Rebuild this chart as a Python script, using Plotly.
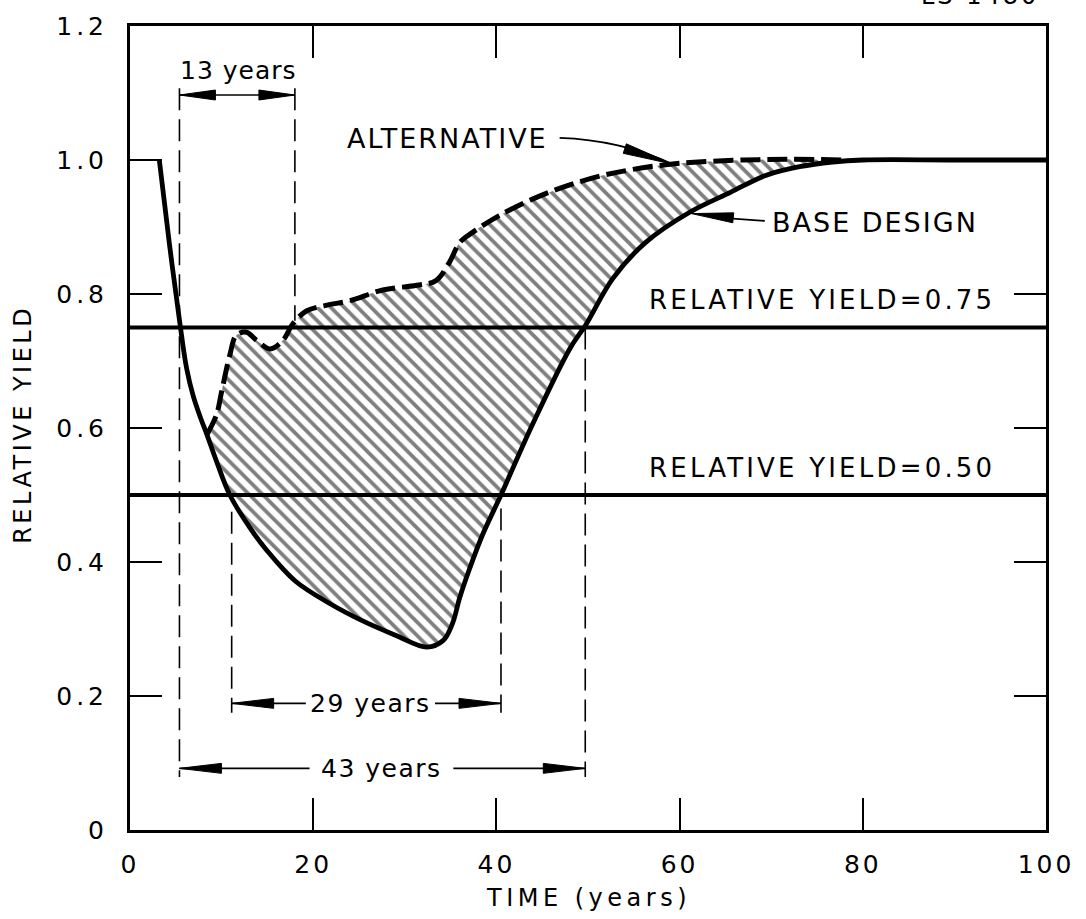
import plotly.graph_objects as go

# ---- data -------------------------------------------------------------
# base design: relative yield versus time (years)
base_t = [3.2, 4.3, 5.45, 6.18, 6.9, 7.63, 8.4, 9.45, 10.9, 13.1, 14.9, 18.0,
          21.8, 25.4, 29.1, 32.4, 34.2, 35.2, 36.0, 37.1, 38.5, 40.5, 44.0,
          48.0, 49.8, 52.7, 56.3, 61.1, 65.6, 69.4, 73.1, 76.7, 80.0, 90.0, 100.0]
base_y = [1.0, 0.875, 0.756, 0.689, 0.648, 0.618, 0.59, 0.55, 0.5, 0.451, 0.418, 0.372,
          0.338, 0.312, 0.29, 0.273, 0.283, 0.308, 0.347, 0.391, 0.441, 0.5, 0.607,
          0.718, 0.755, 0.823, 0.877, 0.922, 0.952, 0.977, 0.99, 0.997, 1.0, 1.0, 1.0]

# alternative design
alt_t = [8.4, 9.45, 10.0, 10.9, 11.6, 12.7, 13.8, 15.3, 16.7, 17.8, 19.3, 21.4,
         24.0, 27.6, 31.3, 33.4, 34.9, 36.0, 37.4, 40.3, 44.0, 47.6, 51.3, 54.9,
         58.5, 62.0, 67.0, 72.0, 78.0]
alt_y = [0.59, 0.62, 0.654, 0.709, 0.738, 0.743, 0.731, 0.718, 0.731, 0.756, 0.775, 0.783,
         0.79, 0.806, 0.813, 0.82, 0.848, 0.877, 0.892, 0.917, 0.942, 0.961, 0.976, 0.986,
         0.993, 0.997, 1.0, 1.001, 1.0]

yield_levels = [0.75, 0.50]
level_labels = ["RELATIVE YIELD=0.75", "RELATIVE YIELD=0.50"]

# time spans: label, start, end, height of the dimension line
span_labels = ["13 years", "29 years", "43 years"]
span_start = [5.4, 11.1, 5.4]
span_end = [18.0, 40.5, 49.7]
span_y = [1.097, 0.189, 0.092]

x_ticks = [0, 20, 40, 60, 80, 100]
x_ticktext = ["0", "20", "40", "60", "80", "100"]
y_ticks = [0, 0.2, 0.4, 0.6, 0.8, 1.0, 1.2]
y_ticktext = ["0", "0.2", "0.4", "0.6", "0.8", "1.0", "1.2"]

# ---- layout geometry --------------------------------------------------
W, H = 1086, 919
ML, MR, MT, MB = 130, 39, 23, 89
X_RANGE = (0, 100)
Y_RANGE = (0, 1.2)
PX_X = (W - ML - MR) / (X_RANGE[1] - X_RANGE[0])   # pixels per year
PX_Y = (H - MT - MB) / (Y_RANGE[1] - Y_RANGE[0])   # pixels per unit yield

FONT = "DejaVu Sans"
INK = "black"


def spaced(text, px):
    """Wide lettering, as in hand-stencilled drawings."""
    return f'<span style="letter-spacing:{px}px">{text}</span>'


def head(tip, tail, length=40, half=5):
    """Filled, slender arrowhead (data coords) pointing from tail to tip."""
    tx, ty = tip[0] * PX_X, -tip[1] * PX_Y
    sx, sy = tail[0] * PX_X, -tail[1] * PX_Y
    dx, dy = tx - sx, ty - sy
    n = (dx * dx + dy * dy) ** 0.5
    ux, uy = dx / n, dy / n
    bx, by = tx - ux * length, ty - uy * length
    px, py = -uy * half, ux * half
    pts = [(tx, ty), (bx + px, by + py), (bx - px, by - py)]
    d = "M " + " L ".join(f"{x / PX_X:.4f},{-y / PX_Y:.5f}" for x, y in pts) + " Z"
    return dict(type="path", xref="x", yref="y", path=d,
                fillcolor=INK, line=dict(color=INK, width=1), layer="above")


def seg(x0, y0, x1, y1, width=1.6, dash=None):
    return dict(type="line", xref="x", yref="y", x0=x0, y0=y0, x1=x1, y1=y1,
                line=dict(color=INK, width=width, dash=dash), layer="above")


SMOOTH = 1.0
fig = go.Figure()

# hatched region between the two designs: base segment, then alternative filled to it
inside = [(t, y) for t, y in zip(base_t, base_y) if alt_t[0] <= t <= alt_t[-1]]
fig.add_trace(go.Scatter(
    x=[t for t, _ in inside] + [alt_t[-1]], y=[y for _, y in inside] + [alt_y[-1]],
    mode="lines", line=dict(width=0, color="rgba(0,0,0,0)", shape="spline", smoothing=SMOOTH),
    hoverinfo="skip", showlegend=False))
fig.add_trace(go.Scatter(
    x=alt_t, y=alt_y, mode="lines", fill="tonexty",
    line=dict(width=0, color="rgba(0,0,0,0)", shape="spline", smoothing=SMOOTH),
    fillcolor="white",
    fillpattern=dict(shape="\\", size=9.5, solidity=0.4,
                     fgcolor=INK, bgcolor="white"),
    hoverinfo="skip", showlegend=False))

# reference yield levels
for lvl in yield_levels:
    fig.add_trace(go.Scatter(x=[X_RANGE[0], X_RANGE[1]], y=[lvl, lvl], mode="lines",
                             line=dict(color=INK, width=4), showlegend=False,
                             hoverinfo="skip"))

# base design curve
fig.add_trace(go.Scatter(x=base_t, y=base_y, mode="lines",
                         line=dict(color=INK, width=4.8, shape="spline", smoothing=SMOOTH),
                         showlegend=False))
# alternative curve
fig.add_trace(go.Scatter(x=alt_t, y=alt_y, mode="lines",
                         line=dict(color=INK, width=5, dash="20px,7px",
                                   shape="spline", smoothing=SMOOTH),
                         showlegend=False))

shapes = []
annotations = []
LABEL_FONT = dict(size=25, family=FONT, color=INK)

# dashed extension lines for the time spans
ext_dash = "22px,9px"
top13 = span_y[0] + 0.01
shapes.append(seg(span_start[0], top13, span_start[0], span_y[2] - 0.013, dash=ext_dash))
shapes.append(seg(span_end[0], top13, span_end[0], 0.76, dash=ext_dash))
shapes.append(seg(span_start[1], 0.475, span_start[1], span_y[1] - 0.014, dash=ext_dash))
shapes.append(seg(span_end[1], 0.48, span_end[1], span_y[1] - 0.014, dash=ext_dash))
shapes.append(seg(span_end[2], yield_levels[0], span_end[2], span_y[2] - 0.013, dash=ext_dash))

# dimension lines with arrowheads
label_gap = [None, (19.2, 33.3), (19.6, 35.3)]
for lab, a, b, y, gap in zip(span_labels, span_start, span_end, span_y, label_gap):
    if gap is None:
        shapes.append(seg(a, y, b, y))
        annotations.append(dict(x=(a + b) / 2 + 0.1, y=y + 0.036, text=spaced(lab, 1),
                                showarrow=False, xref="x", yref="y", font=LABEL_FONT))
        hl = 36
    else:
        shapes.append(seg(a, y, gap[0], y))
        shapes.append(seg(gap[1], y, b, y))
        annotations.append(dict(x=(gap[0] + gap[1]) / 2, y=y, text=spaced(lab, 1.5),
                                showarrow=False, xref="x", yref="y", font=LABEL_FONT))
        hl = 42
    shapes.append(head((a, y), (a + 5, y), length=hl, half=5))
    shapes.append(head((b, y), (b - 5, y), length=hl, half=5))

# level labels
for lvl, lab in zip(yield_levels, level_labels):
    annotations.append(dict(x=94.6, y=lvl + 0.041, text=spaced(lab, 3.2), showarrow=False,
                            xref="x", yref="y", xanchor="right",
                            font=dict(size=26, family=FONT, color=INK)))

# curve call-outs
annotations.append(dict(x=45.8, y=1.032, text=spaced("ALTERNATIVE", 2), showarrow=False,
                        xref="x", yref="y", xanchor="right",
                        font=dict(size=27, family=FONT, color=INK)))
alt_tip = (59.2, 0.994)
shapes.append(dict(type="path", xref="x", yref="y",
                   path=f"M 46.9,1.033 Q 53.5,1.03 {alt_tip[0]},{alt_tip[1]}",
                   line=dict(color=INK, width=1.8), layer="above"))
shapes.append(head(alt_tip, (53.8, 1.018), length=50, half=5))

annotations.append(dict(x=69.9, y=0.907, text=spaced("BASE DESIGN", 2), showarrow=False,
                        xref="x", yref="y", xanchor="left",
                        font=dict(size=27, family=FONT, color=INK)))
base_tip = (61.3, 0.92)
shapes.append(seg(69.3, 0.909, base_tip[0] + 3, 0.914, width=1.8))
shapes.append(head(base_tip, (69.3, 0.909), length=42, half=5))

# axis titles
annotations.append(dict(x=0.5, y=-0.084, xref="paper", yref="paper",
                        text=spaced("TIME (years)", 4.5),
                        showarrow=False, yanchor="middle",
                        font=dict(size=24, family=FONT, color=INK)))
annotations.append(dict(x=-0.117, y=0.505, xref="paper", yref="paper",
                        text=spaced("RELATIVE YIELD", 3.5),
                        showarrow=False, textangle=-90, xanchor="center",
                        font=dict(size=24, family=FONT, color=INK)))
# drawing number
annotations.append(dict(x=0.995, y=1.018, xref="paper", yref="paper", text=spaced("LS 1480", 3),
                        showarrow=False, xanchor="right", yanchor="bottom",
                        font=dict(size=24, family=FONT, color=INK)))

axis_common = dict(showline=True, linewidth=3, linecolor=INK, mirror="ticks",
                   ticks="inside", ticklen=32, tickwidth=2, tickcolor=INK,
                   showgrid=False, zeroline=False,
                   tickfont=dict(size=25, family=FONT, color=INK))

fig.update_layout(
    width=W, height=H,
    margin=dict(l=ML, r=MR, t=MT, b=MB),
    paper_bgcolor="white", plot_bgcolor="white",
    xaxis=dict(range=list(X_RANGE), tickvals=x_ticks,
               ticktext=[spaced(t, 3) for t in x_ticktext],
               ticklabelstandoff=10, **axis_common),
    yaxis=dict(range=list(Y_RANGE), tickvals=y_ticks,
               ticktext=[spaced(t, 4) for t in y_ticktext],
               ticklabelstandoff=14, **axis_common),
    shapes=shapes, annotations=annotations, showlegend=False,
)

fig.write_html("out.html")
